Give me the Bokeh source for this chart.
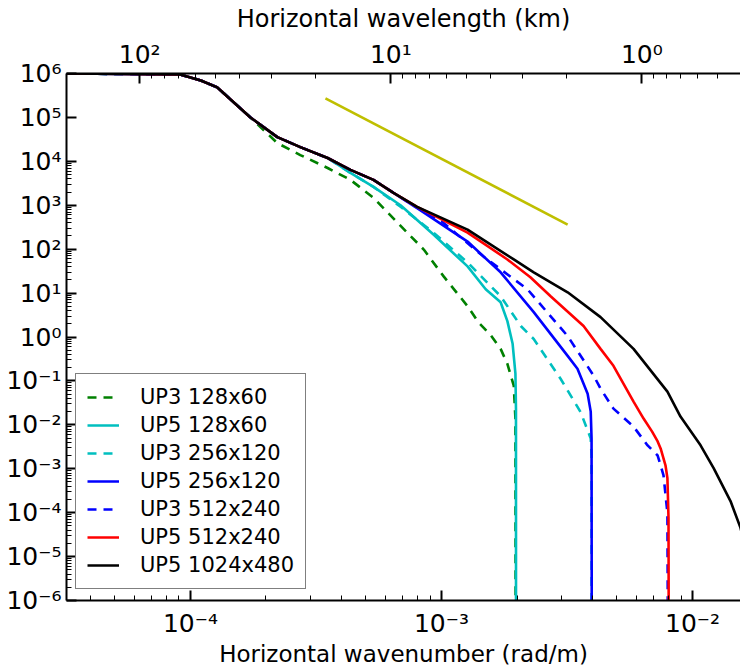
import numpy as np
from bokeh.plotting import figure
from bokeh.models import (LogAxis, FixedTicker, CustomJSTickFormatter, Legend,
                          LegendItem, Range1d)
from bokeh.embed import file_html
from bokeh.resources import INLINE

# ---------------- data (wavenumber k in rad/m, spectral energy E) ----------------
k_common = [3.2e-5, 9.1e-5, 1.10e-4, 1.28e-4, 1.73e-4]
e_common = [1.0e6, 9.5e5, 6.95e5, 4.82e5, 1.01e5]

k_upper = [2.22e-4, 2.74e-4, 3.52e-4]
e_upper = [3.56e4, 2.11e4, 1.19e4]

k_mid = [4.34e-4, 5.36e-4, 6.44e-4]
e_mid = [6.4e3, 3.78e3, 1.92e3]

# UP3 128x60 (green dashed)
k_g = [2.22e-4, 2.74e-4, 3.52e-4, 4.34e-4, 5.36e-4, 6.68e-4, 8.5e-4, 1.02e-3,
       1.27e-3, 1.40e-3, 1.57e-3, 1.72e-3, 1.83e-3, 1.94e-3, 1.97e-3, 1.975e-3]
e_g = [2.6e4, 1.39e4, 7.06e3, 3.78e3, 1.48e3, 4.02e2, 98, 24,
       5.04, 2.19, 1.11, 0.536, 0.245, 0.078, 0.0139, 1e-9]

# UP5 128x60 (cyan solid)
k_c = [4.34e-4, 5.36e-4, 6.87e-4, 9.29e-4, 1.27e-3, 1.50e-3, 1.72e-3, 1.83e-3,
       1.92e-3, 1.97e-3, 1.98e-3, 1.981e-3]
e_c = [5.45e3, 2.62e3, 1.0e3, 2.15e2, 40.5, 12.2, 6.2, 2.3,
       0.70, 0.146, 0.023, 1e-9]

# UP3 256x120 (cyan dashed)
k_cd = [4.34e-4, 5.36e-4, 6.87e-4, 9.29e-4, 1.27e-3, 1.72e-3, 2.07e-3, 2.33e-3,
        2.98e-3, 3.58e-3, 3.93e-3, 3.96e-3, 3.965e-3]
e_cd = [5.45e3, 2.62e3, 9.25e2, 2.39e2, 49.9, 8.5, 1.78, 0.90,
        0.112, 0.0196, 4.9e-3, 2.0e-3, 1e-9]

# UP5 256x120 (blue solid)
k_b = [8.0e-4, 1.27e-3, 1.72e-3, 2.33e-3, 3.18e-3, 3.48e-3, 3.82e-3, 3.93e-3,
       3.96e-3, 3.97e-3]
e_b = [8.6e2, 149, 29.7, 3.69, 0.372, 0.189, 0.051, 0.02,
       4.9e-3, 1e-9]

# UP3 512x240 (blue dashed)
k_bd = [8.0e-4, 1.0e-3, 1.47e-3, 2.20e-3, 3.18e-3, 4.04e-3, 4.30e-3, 4.84e-3,
        5.82e-3, 6.62e-3, 7.26e-3, 7.66e-3, 7.94e-3, 8.0e-3]
e_bd = [8.8e2, 4.3e2, 68, 12.2, 1.05, 0.131, 0.0665, 0.0234,
        9.1e-3, 3.4e-3, 2.0e-3, 7.1e-4, 9.8e-5, 1e-9]

# UP5 512x240 (red)
k_r = [8.0e-4, 1.27e-3, 1.83e-3, 2.26e-3, 2.72e-3, 3.68e-3, 4.30e-3, 4.84e-3,
       5.82e-3, 6.38e-3, 6.9e-3, 7.26e-3, 7.46e-3, 7.80e-3, 7.94e-3, 8.02e-3, 8.05e-3]
e_r = [9.2e2, 2.39e2, 58.3, 22.9, 8.5, 1.78, 0.536, 0.221,
       0.0338, 0.0139, 7.0e-3, 4.2e-3, 2.9e-3, 1.2e-3, 6.1e-4, 7.6e-5, 1e-9]

# UP5 1024x480 (black)
k_k = [8.0e-4, 1.27e-3, 1.94e-3, 2.33e-3, 3.18e-3, 4.30e-3, 5.82e-3, 7.94e-3,
       8.95e-3, 1.076e-2, 1.213e-2, 1.416e-2, 1.552e-2, 1.70e-2]
e_k = [9.2e2, 2.79e2, 58.3, 29.6, 10.4, 2.84, 0.536, 0.0569,
       0.01545, 3.41e-3, 1.03e-3, 1.84e-4, 4.5e-5, 5.6e-6]

# k^-3 reference line (yellow)
k_ref = [3.45e-4, 3.18e-3]
e_ref = [2.72e5, 3.62e2]

x_major = [1e-4, 1e-3, 1e-2]
y_major = [10.0 ** n for n in range(-6, 7)]
lam_major = [100, 10, 1]  # km

XMIN, XMAX = 3.21e-5, 1.552e-2

# ---------------- figure ----------------
p = figure(width=740, height=669, x_axis_type="log", y_axis_type="log",
           x_range=Range1d(XMIN, XMAX), y_range=Range1d(1e-6, 1e6),
           output_backend="svg", toolbar_location=None,
           min_border_left=66, min_border_right=0, min_border_top=73,
           min_border_bottom=66)
p.outline_line_color = None
p.xgrid.visible = False
p.ygrid.visible = False
p.background_fill_color = "white"
p.border_fill_color = "white"

sup_code = """
const sup = {'-':'\u207b','0':'\u2070','1':'\u00b9','2':'\u00b2','3':'\u00b3','4':'\u2074',
             '5':'\u2075','6':'\u2076','7':'\u2077','8':'\u2078','9':'\u2079'};
const e = Math.round(Math.log10(VAL));
return '10' + String(e).split('').map(c => sup[c]).join('');
"""

def minor_for(lo, hi):
    out = []
    for n in range(-8, 4):
        for m in range(2, 10):
            v = m * 10.0 ** n
            if lo <= v <= hi:
                out.append(v)
    return out

def style_axis(ax):
    ax.axis_line_color = "black"
    ax.axis_line_width = 2
    ax.major_tick_in = 10
    ax.major_tick_out = 0
    ax.minor_tick_in = 5
    ax.minor_tick_out = 0
    ax.major_tick_line_width = 2
    ax.minor_tick_line_width = 1
    ax.major_tick_line_color = "black"
    ax.minor_tick_line_color = "black"
    ax.major_label_text_font = "DejaVu Sans"
    ax.major_label_text_font_size = "25px"
    ax.major_label_text_color = "black"
    ax.axis_label_text_font = "DejaVu Sans"
    ax.axis_label_text_font_size = "23px"
    ax.axis_label_text_font_style = "normal"
    ax.axis_label_text_color = "black"

# bottom axis
xa = p.xaxis[0]
xa.ticker = FixedTicker(ticks=x_major, minor_ticks=minor_for(XMIN, XMAX))
xa.formatter = CustomJSTickFormatter(code=sup_code.replace("VAL", "tick"))
xa.axis_label = "Horizontal wavenumber (rad/m)"
style_axis(xa)
xa.major_label_standoff = 8
xa.axis_label_standoff = 0

# left axis
ya = p.yaxis[0]
ya.ticker = FixedTicker(ticks=y_major, minor_ticks=minor_for(1e-6, 1e6))
ya.formatter = CustomJSTickFormatter(code=sup_code.replace("VAL", "tick"))
style_axis(ya)
ya.major_label_standoff = 5

# top axis : wavelength in km
top_major = [2 * np.pi / (l * 1000.0) for l in lam_major]
top_minor = []
for n in range(-1, 3):
    for m in range(2, 10):
        lam = m * 10.0 ** n
        kk = 2 * np.pi / (lam * 1000.0)
        if XMIN <= kk <= XMAX:
            top_minor.append(kk)
top = LogAxis(ticker=FixedTicker(ticks=top_major, minor_ticks=top_minor),
              formatter=CustomJSTickFormatter(code=sup_code.replace(
                  "VAL", "(2*Math.PI/tick/1000)")),
              axis_label="Horizontal wavelength (km)")
style_axis(top)
top.axis_label_text_font_size = "24px"
top.major_label_standoff = 5
top.axis_label_standoff = 4
p.add_layout(top, "above")

# ---------------- lines ----------------
LW = 2.6
DASH = "9 7"
p.line(k_ref, e_ref, line_color="#BFBF00", line_width=LW)

kg = k_common + k_g
eg = e_common + e_g
kc = k_common + k_upper + k_c
ec = e_common + e_upper + e_c
kcd = k_common + k_upper + k_cd
ecd = e_common + e_upper + e_cd
kb = k_common + k_upper + k_mid + k_b
eb = e_common + e_upper + e_mid + e_b
kbd = k_common + k_upper + k_mid + k_bd
ebd = e_common + e_upper + e_mid + e_bd
kr = k_common + k_upper + k_mid + k_r
er = e_common + e_upper + e_mid + e_r
kk_ = k_common + k_upper + k_mid + k_k
ek_ = e_common + e_upper + e_mid + e_k

r1 = p.line(kg, eg, line_color="#008000", line_width=LW, line_dash=DASH)
r2 = p.line(kc, ec, line_color="#00BFBF", line_width=LW)
r3 = p.line(kcd, ecd, line_color="#00BFBF", line_width=LW, line_dash=DASH)
r4 = p.line(kb, eb, line_color="#0000FF", line_width=LW)
r5 = p.line(kbd, ebd, line_color="#0000FF", line_width=LW, line_dash=DASH)
r6 = p.line(kr, er, line_color="#FF0000", line_width=LW)
r7 = p.line(kk_, ek_, line_color="black", line_width=LW)

legend = Legend(items=[
    LegendItem(label="UP3 128x60", renderers=[r1]),
    LegendItem(label="UP5 128x60", renderers=[r2]),
    LegendItem(label="UP3 256x120", renderers=[r3]),
    LegendItem(label="UP5 256x120", renderers=[r4]),
    LegendItem(label="UP3 512x240", renderers=[r5]),
    LegendItem(label="UP5 512x240", renderers=[r6]),
    LegendItem(label="UP5 1024x480", renderers=[r7]),
], location=(9, 11))
legend.label_text_font = "DejaVu Sans"
legend.label_text_font_size = "21px"
legend.label_text_color = "black"
legend.border_line_color = "black"
legend.border_line_width = 1
legend.background_fill_color = "white"
legend.background_fill_alpha = 1.0
legend.glyph_width = 32
legend.glyph_height = 20
legend.label_height = 20
legend.label_standoff = 21
legend.spacing = 4
legend.padding = 11
legend.margin = 0
p.add_layout(legend)

open("out.html", "w").write(file_html(p, INLINE))
